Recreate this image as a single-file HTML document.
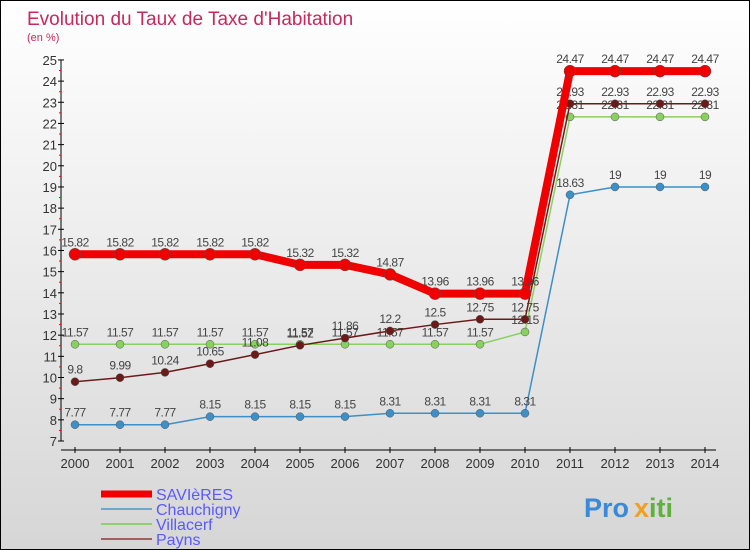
<!DOCTYPE html>
<html><head><meta charset="utf-8"><style>
body{margin:0}
#c{width:748px;height:548px;border:1px solid #000;background:linear-gradient(#fff,#d6d6d6);position:relative;overflow:hidden;font-family:"Liberation Sans",sans-serif}
</style></head><body>
<div id="c">
<svg id="s" width="748" height="548"></svg>
</div>
<script>
const years=[2000,2001,2002,2003,2004,2005,2006,2007,2008,2009,2010,2011,2012,2013,2014];
const savieres=[15.82,15.82,15.82,15.82,15.82,15.32,15.32,14.87,13.96,13.96,13.96,24.47,24.47,24.47,24.47];
const chauchigny=[7.77,7.77,7.77,8.15,8.15,8.15,8.15,8.31,8.31,8.31,8.31,18.63,19,19,19];
const villacerf=[11.57,11.57,11.57,11.57,11.57,11.57,11.57,11.57,11.57,11.57,12.15,22.31,22.31,22.31,22.31];
const payns=[9.8,9.99,10.24,10.65,11.08,11.52,11.86,12.2,12.5,12.75,12.75,22.93,22.93,22.93,22.93];
const yTicks=[7,8,9,10,11,12,13,14,15,16,17,18,19,20,21,22,23,24,25];
const NS="http://www.w3.org/2000/svg";
const s=document.getElementById('s');
const X=i=>74+i*45, Y=v=>440-(v-7)*21.17;
function el(t,a,name,txt){const e=document.createElementNS(NS,t);for(const k in a)e.setAttribute(k,a[k]);


if(txt!==undefined)e.textContent=txt;s.appendChild(e);return e;}
el('text',{x:26,y:24,fill:'#c8285a','font-size':19},'chart-title','Evolution du Taux de Taxe d\'Habitation');
el('text',{x:26,y:40,fill:'#c8285a','font-size':11},'chart-subtitle','(en %)');
el('line',{x1:60,y1:Y(25),x2:60,y2:Y(7),stroke:'#000'},'y-axis');
el('line',{x1:60,y1:449,x2:715,y2:449,stroke:'#000'},'x-axis');
yTicks.forEach(v=>{el('line',{x1:57,y1:Y(v),x2:63,y2:Y(v),stroke:'#000'},'y-tick');
el('text',{x:56,y:Y(v)+5,'text-anchor':'end','font-size':13,fill:'#333'},'y-tick-label',v);
if(v<25)el('line',{x1:58,y1:Y(v+0.5),x2:60,y2:Y(v+0.5),stroke:'#f00'},'y-minor-tick');});
years.forEach((y,i)=>{el('line',{x1:X(i),y1:446,x2:X(i),y2:452,stroke:'#000'},'x-tick');
el('text',{x:X(i),y:467,'text-anchor':'middle','font-size':13,fill:'#333'},'x-tick-label',y);});
function series(d,col,w,r,name){
el('polyline',{points:d.map((v,i)=>X(i)+','+Y(v)).join(' '),fill:'none',stroke:col,'stroke-width':w},name+'-line');
d.forEach((v,i)=>{el('circle',{cx:X(i),cy:Y(v),r:r,fill:col,stroke:'#555','stroke-width':0.5},name+'-point');
el('text',{x:X(i),y:Y(v)-8,'text-anchor':'middle','font-size':12,fill:'#444','letter-spacing':'-0.5'},name+'-value',String(v));});}
series(chauchigny,'#3d8fc8',1.5,4,'chauchigny');
series(villacerf,'#88d060',1.5,4,'villacerf');
series(payns,'#6b1a1a',1.5,4,'payns');
series(savieres,'#f00000',8,6,'savieres');
const leg=[['SAVIèRES','#f00000',7],['Chauchigny','#6aa8d0',2],['Villacerf','#90d070',2],['Payns','#a06060',2]];
leg.forEach((l,i)=>{const y=493+i*15;
el('line',{x1:100,y1:y,x2:151,y2:y,stroke:l[1],'stroke-width':l[2]},'legend-swatch');
el('text',{x:155,y:y+6,'font-size':16,fill:'#5a5aff'},'legend-label',l[0]);});
el('text',{x:583,y:516,'font-size':27,'font-weight':'bold',fill:'#3a8ad8'},'proxiti-logo','Pro');
el('text',{x:633,y:516,'font-size':27,'font-weight':'bold',fill:'#f0a020'},'proxiti-logo-x','x');
el('text',{x:648,y:516,'font-size':27,'font-weight':'bold',fill:'#60b040'},'proxiti-logo-iti','iti');
</script>
</body></html>
